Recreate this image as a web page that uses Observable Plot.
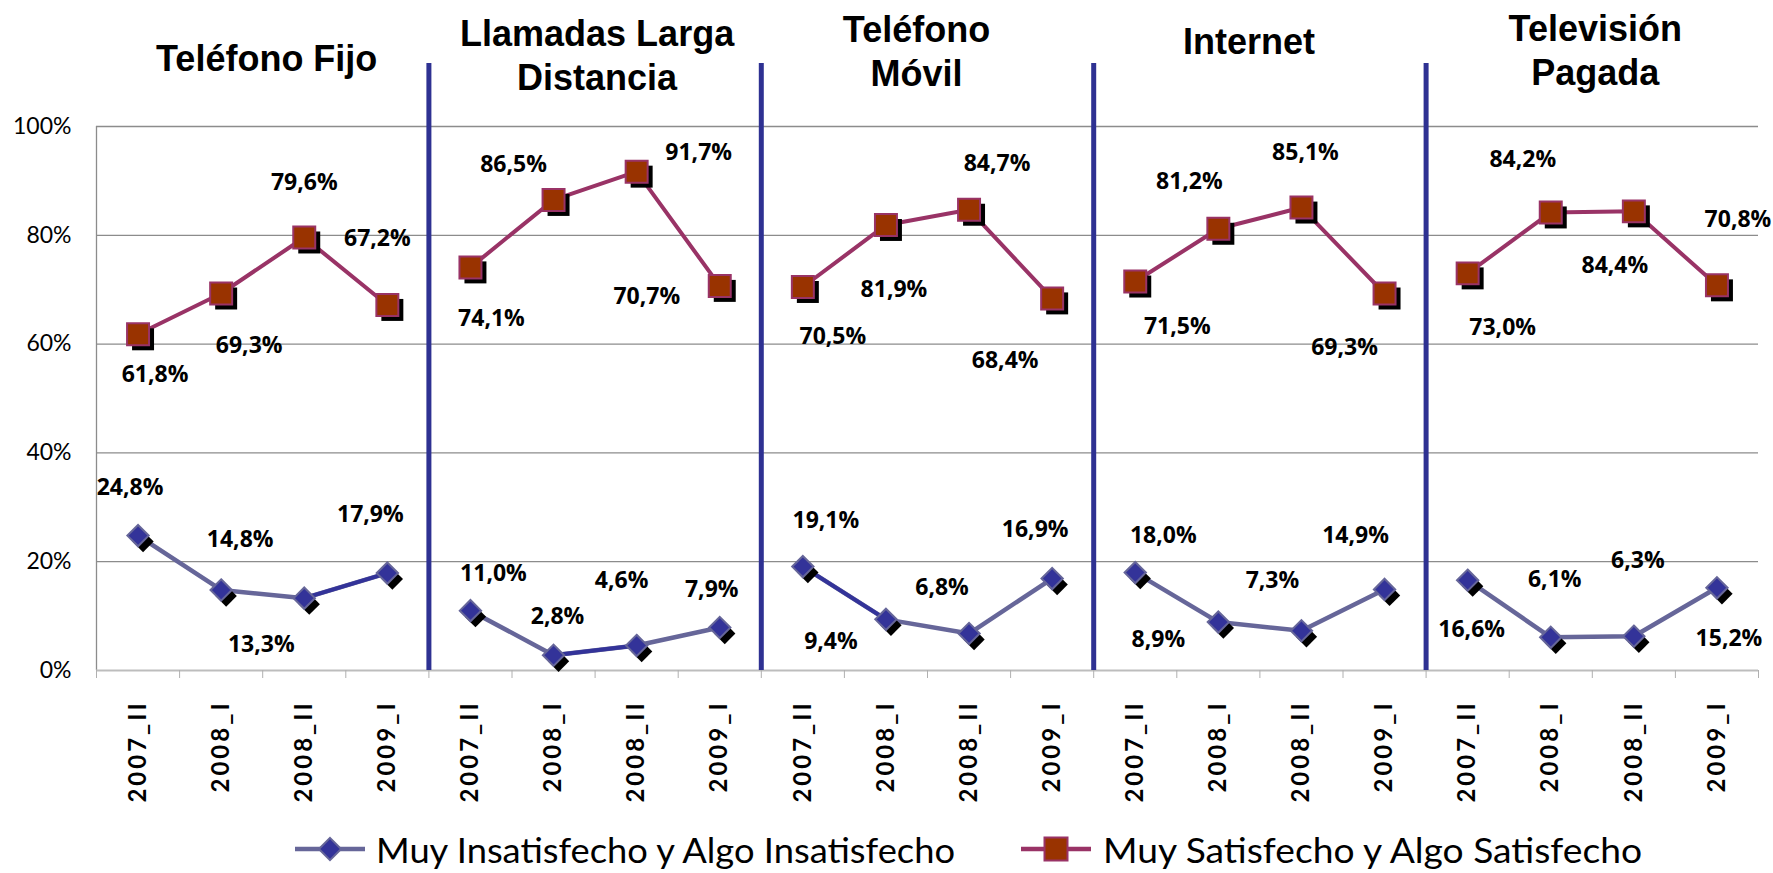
<!DOCTYPE html>
<html><head><meta charset="utf-8">
<script src="https://cdn.jsdelivr.net/npm/d3@7"></script>
<script src="https://cdn.jsdelivr.net/npm/@observablehq/plot@0.6"></script>
<style>
html,body{margin:0;padding:0;background:#fff;}
#chart{width:1773px;height:873px;overflow:hidden;}
#chart svg{display:block;}
g[aria-label="x-axis tick label"] text{letter-spacing:3px;}
</style></head><body><div id="chart"></div>
<script>
// ---- data ----
const services = ["Teléfono Fijo", "Llamadas Larga\nDistancia", "Teléfono\nMóvil", "Internet", "Televisión\nPagada"];
const periods = ["2007_II", "2008_I", "2008_II", "2009_I"];
const insatisfecho = [24.8, 14.8, 13.3, 17.9, 11.0, 2.8, 4.6, 7.9, 19.1, 9.4, 6.8, 16.9, 18.0, 8.9, 7.3, 14.9, 16.6, 6.1, 6.3, 15.2];
const satisfecho = [61.8, 69.3, 79.6, 67.2, 74.1, 86.5, 91.7, 70.7, 70.5, 81.9, 84.7, 68.4, 71.5, 81.2, 85.1, 69.3, 73.0, 84.2, 84.4, 70.8];
const yTicks = [0, 20, 40, 60, 80, 100];
const seriesNames = ["Muy Insatisfecho y Algo Insatisfecho", "Muy Satisfecho y Algo Satisfecho"];
// segments of the lower series drawn in the darker blue (index pairs)
const darkSegments = [[2, 3], [5, 6], [8, 9]];

// ---- label placement (pixel offsets from each point) ----
const offSat = [[17,40],[28,52],[0,-55],[-10,-66],[21,51],[-40,-35],[62,-19],[-73,11],[30,50],[8,65],[28,-46],[-47,62],[42,45],[-29,-47],[4,-55],[-40,54],[35,54],[-28,-53],[-19,54],[21,-66]];
const offInsat = [[-8,-48],[19,-50],[-43,46],[-17,-58],[23,-37],[4,-39],[-15,-65],[-8,-38],[23,-46],[-55,22],[-27,-46],[-17,-49],[28,-37],[-60,18],[-29,-50],[-29,-54],[4,49],[4,-58],[4,-76],[12,51]];
const titleDx = [4, 2, -11, -11, 3];
const titleDy = [-56, -37, -41, -73, -42];

// ---- styles ----
const C = {satLine:"#993366", satFill:"#993300", insLine:"#666699", insFill:"#333399", sep:"#2E3192", grid:"#8c8c8c"};

const nP = periods.length;
const rows = insatisfecho.map((v, i) => ({i, panel: Math.floor(i / nP), x: i + 0.5, insat: v, sat: satisfecho[i]}));
const separators = d3.range(1, services.length).map(p => p * nP);
const fmt = v => v.toFixed(1).replace(".", ",") + "%";
const lblStyle = {fontFamily: "Open Sans", fontWeight: 700, fontSize: 23, fill: "#000"};

const W = 1773, H = 818;
const plot = Plot.plot({
  width: W, height: H,
  marginLeft: 96, marginRight: 15, marginTop: 126, marginBottom: 148,
  x: {domain: [0, services.length * nP]},
  y: {domain: [0, 100]},
  marks: [
    Plot.ruleY(yTicks.filter(d => d > 0), {stroke: C.grid, strokeWidth: 1.3}),
    Plot.ruleX([0], {stroke: C.grid, strokeWidth: 1.3}),
    Plot.ruleY([0], {stroke: "#bdbdbd", strokeWidth: 2}),
    Plot.axisX(d3.range(0, services.length * nP + 1), {tickSize: 8, tickFormat: () => "", stroke: "#b0b0b0", label: null}),
    Plot.axisX(rows.map(d => d.x), {tickSize: 0, tickPadding: 30, tickRotate: -90, tickFormat: v => periods[Math.floor(v) % nP], fontSize: 24, fontWeight: "bold", fontFamily: "Lato", label: null}),
    Plot.axisY(yTicks, {tickSize: 0, tickPadding: 25, tickFormat: d => d + "%", fontSize: 23, fontFamily: "Lato", label: null}),
    Plot.ruleX(separators, {stroke: C.sep, strokeWidth: 5, insetTop: -63}),
    // lines
    Plot.line(rows, {x: "x", y: "sat", z: "panel", stroke: C.satLine, strokeWidth: 4}),
    Plot.line(rows, {x: "x", y: "insat", z: "panel", stroke: C.insLine, strokeWidth: 4.5}),
    Plot.link(darkSegments, {x1: s => rows[s[0]].x, y1: s => rows[s[0]].insat, x2: s => rows[s[1]].x, y2: s => rows[s[1]].insat, stroke: C.insFill, strokeWidth: 4}),
    // shadows
    Plot.dot(rows, {x: "x", y: "sat", symbol: "square", r: 12.4, fill: "#000", dx: 5, dy: 5}),
    Plot.dot(rows, {x: "x", y: "insat", symbol: "diamond2", r: 9.6, fill: "#000", dx: 5, dy: 6}),
    // markers
    Plot.dot(rows, {x: "x", y: "sat", symbol: "square", r: 12.4, fill: C.satFill, stroke: C.satLine, strokeWidth: 2}),
    Plot.dot(rows, {x: "x", y: "insat", symbol: "diamond2", r: 9.6, fill: C.insFill, stroke: C.insLine, strokeWidth: 2}),
    // data labels
    ...rows.map((d, k) => Plot.text([d], {x: "x", y: "sat", text: r => fmt(r.sat), dx: offSat[k][0], dy: offSat[k][1], ...lblStyle})),
    ...rows.map((d, k) => Plot.text([d], {x: "x", y: "insat", text: r => fmt(r.insat), dx: offInsat[k][0], dy: offInsat[k][1], ...lblStyle})),
    // panel titles
    ...services.map((s, p) => Plot.text([s], {x: () => p * nP + nP / 2, text: d => d, frameAnchor: "top", lineAnchor: "bottom", lineHeight: 1.22, dx: titleDx[p], dy: titleDy[p], fontFamily: "Liberation Sans, Arial, sans-serif", fontWeight: "bold", fontSize: 36, fill: "#000"}))
  ]
});
document.getElementById("chart").appendChild(plot);

// ---- legend (below the plot) ----
const leg = d3.select("#chart").append("svg").attr("width", W).attr("height", 873 - H);
const entries = [
  {name: seriesNames[0], x1: 295, x2: 365, tx: 376, tl: 579, line: C.insLine, fill: C.insFill, sym: d3.symbolDiamond2, size: 10 * 10 * Math.PI},
  {name: seriesNames[1], x1: 1021, x2: 1091, tx: 1103, tl: 539, line: C.satLine, fill: C.satFill, sym: d3.symbolSquare, size: 23 * 23}
];
const ly = 31;
entries.forEach(e => {
  leg.append("line").attr("x1", e.x1).attr("x2", e.x2).attr("y1", ly).attr("y2", ly).attr("stroke", e.line).attr("stroke-width", 4.5);
  leg.append("path").attr("d", d3.symbol(e.sym, e.size)()).attr("transform", `translate(${(e.x1 + e.x2) / 2},${ly})`).attr("fill", e.fill).attr("stroke", e.line).attr("stroke-width", 2);
  leg.append("text").attr("x", e.tx).attr("y", 45).attr("font-family", "Lato").attr("font-size", 35).attr("textLength", e.tl).attr("lengthAdjust", "spacingAndGlyphs").attr("fill", "#000").text(e.name);
});
</script></body></html>
